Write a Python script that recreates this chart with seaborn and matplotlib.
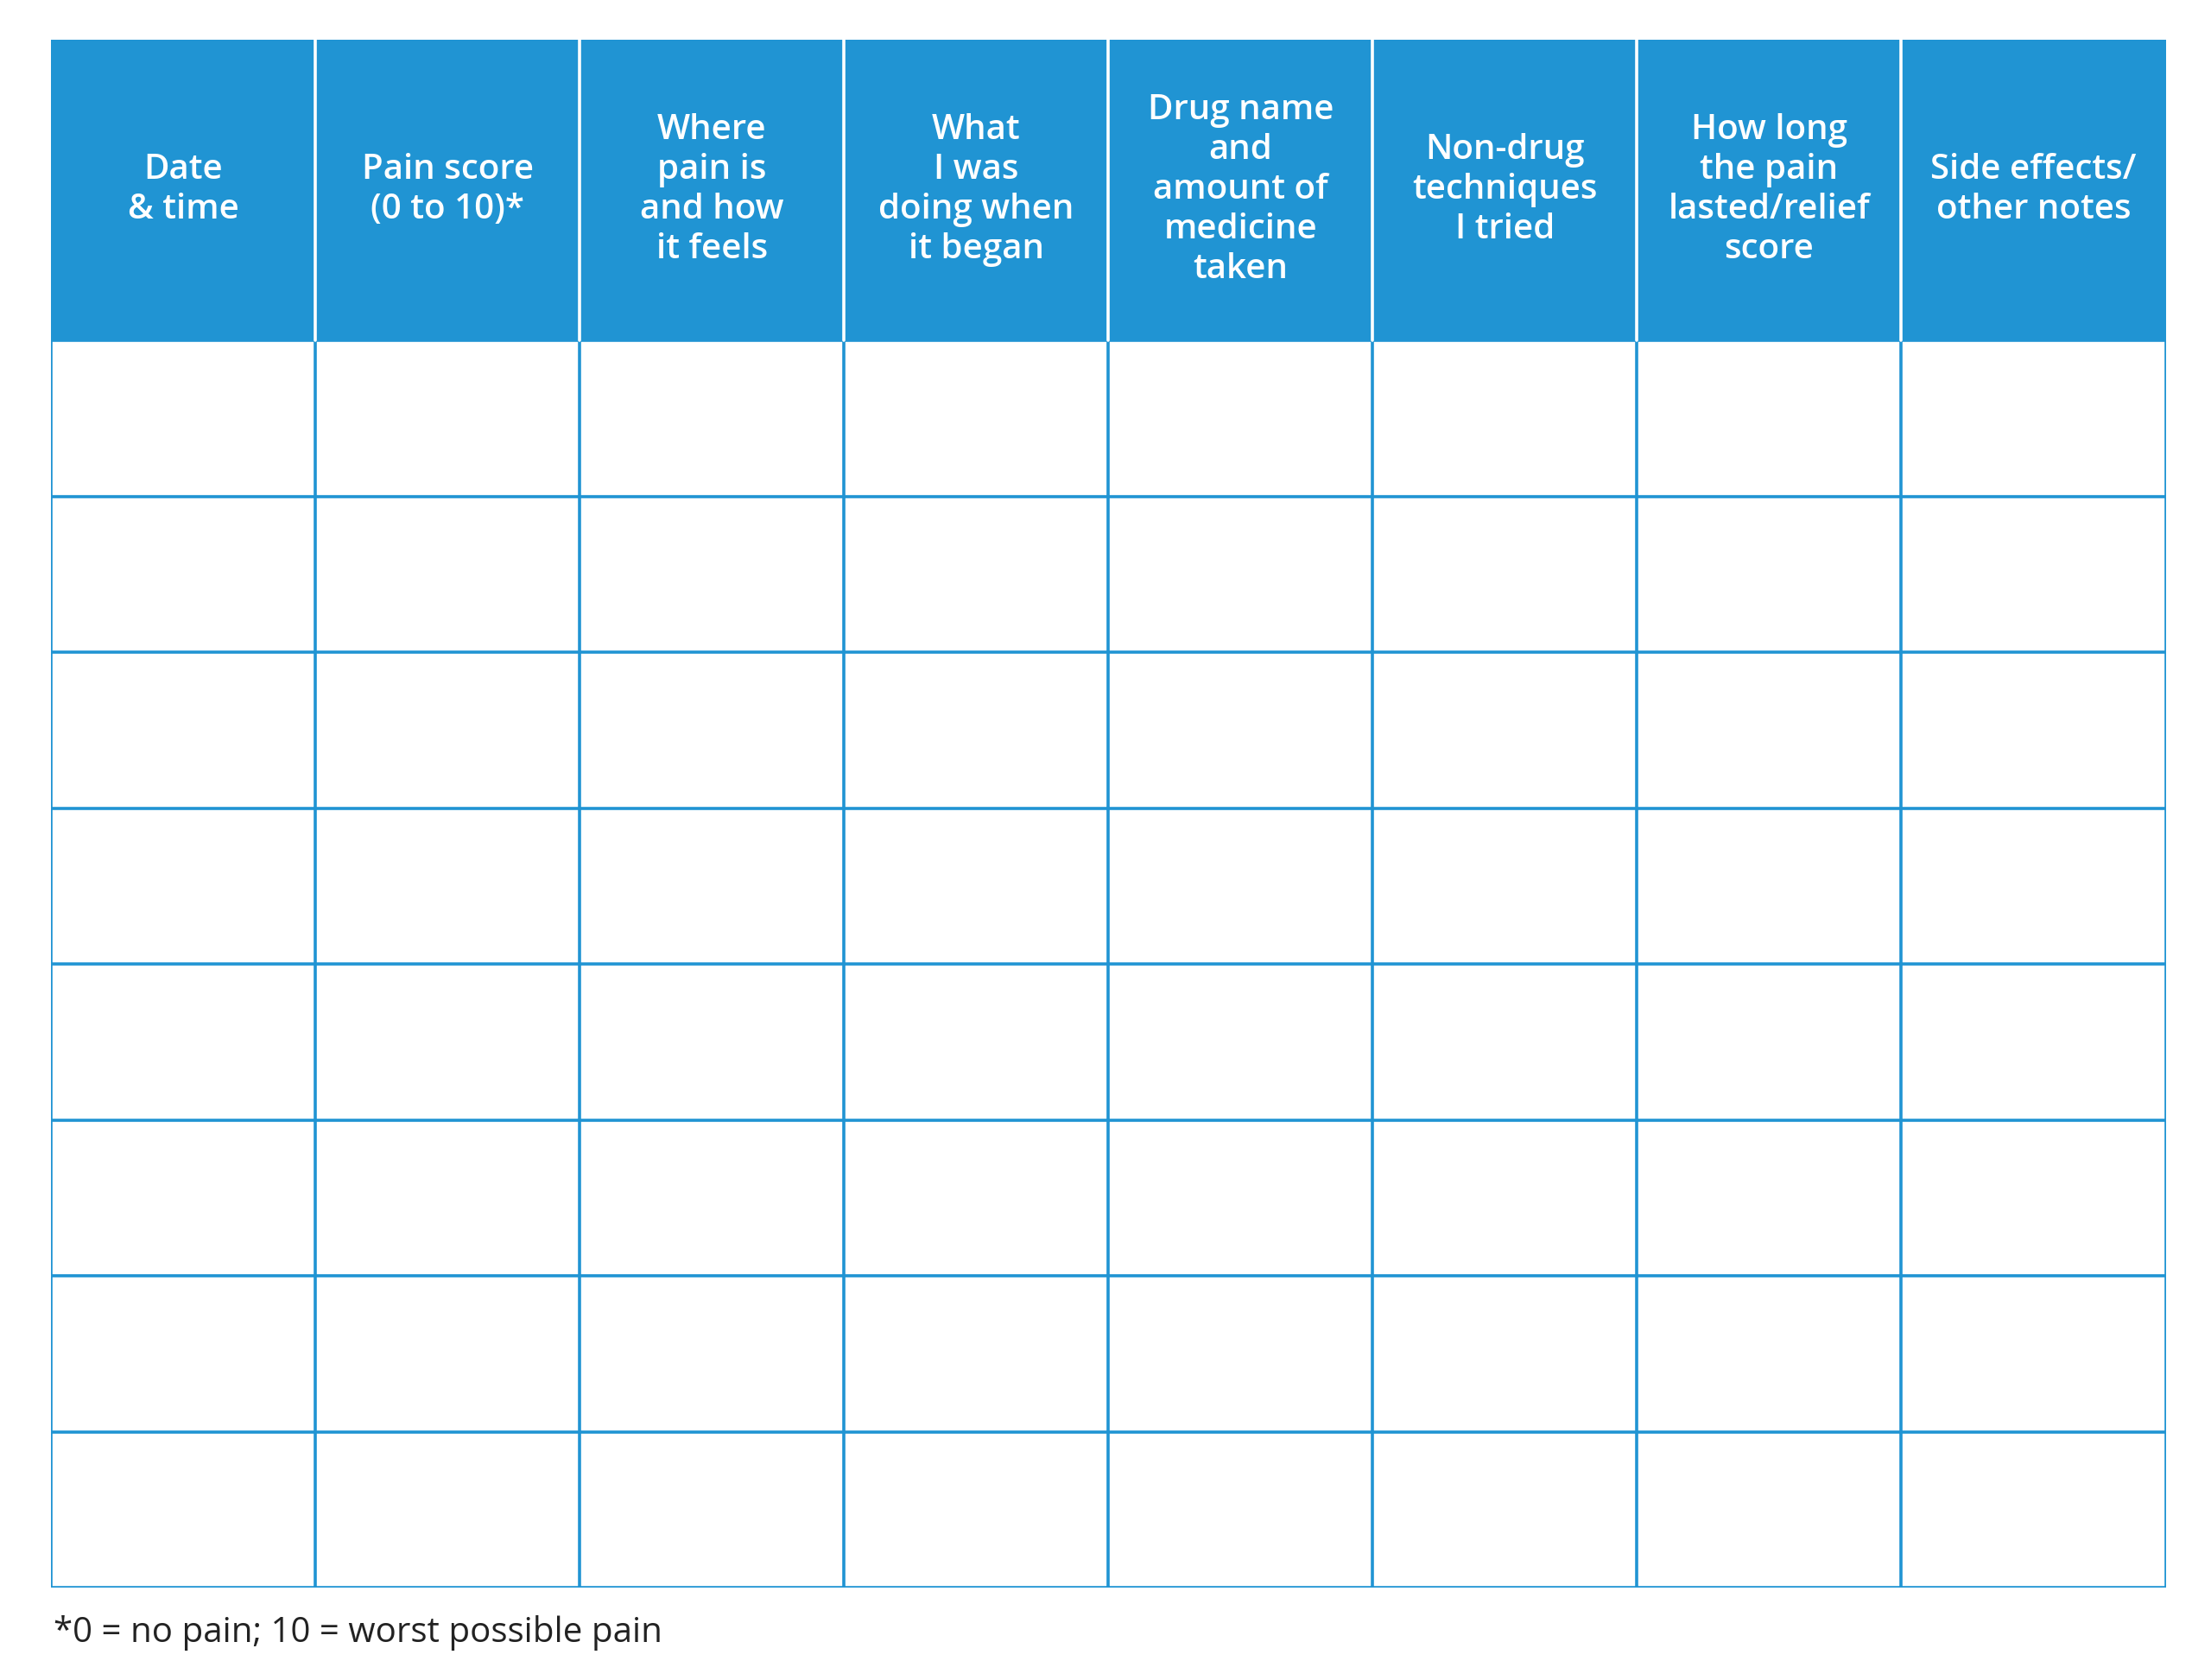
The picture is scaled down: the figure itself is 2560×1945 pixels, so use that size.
import matplotlib.pyplot as plt
import seaborn as sns

sns.set_theme(style="white")
plt.rcParams["font.family"] = ["Open Sans", "DejaVu Sans"]

headers = [
    "Date\n& time",
    "Pain score\n(0 to 10)*",
    "Where\npain is\nand how\nit feels",
    "What\nI was\ndoing when\nit began",
    "Drug name\nand\namount of\nmedicine\ntaken",
    "Non-drug\ntechniques\nI tried",
    "How long\nthe pain\nlasted/relief\nscore",
    "Side effects/\nother notes",
]
n_rows = 8
header_height = 1.93
footnote = "*0 = no pain; 10 = worst possible pain"

BLUE = "#2094d3"

fig = plt.figure(figsize=(12.8, 9.725), dpi=200)
ax = fig.add_axes([0.0231, 0.0549, 0.9564, 0.9215])
n_cols = len(headers)
top = n_rows + header_height
ax.set_xlim(0, n_cols)
ax.set_ylim(0, top)
ax.axis("off")

# header band
ax.axhspan(n_rows, top, color=BLUE, lw=0)

# grid
for i in range(1, n_rows + 1):
    ax.plot([0, n_cols], [i, i], color=BLUE, lw=1.3)
ax.plot([0, n_cols], [0, 0], color=BLUE, lw=1.3)
for j in range(n_cols + 1):
    ax.plot([j, j], [0, n_rows], color=BLUE, lw=1.3)
# white separators in header
for j in range(1, n_cols):
    ax.plot([j, j], [n_rows, top], color="white", lw=1.3)

for j, h in enumerate(headers):
    ax.text(j + 0.5, n_rows + header_height / 2, h, ha="center", va="center",
            color="white", fontsize=14.5, fontweight="semibold", linespacing=1.2)

fig.text(0.0244, 0.028, footnote, ha="left", va="center", fontsize=14.5, color="#222222")

fig.savefig("out.png", dpi=200, facecolor="white")
